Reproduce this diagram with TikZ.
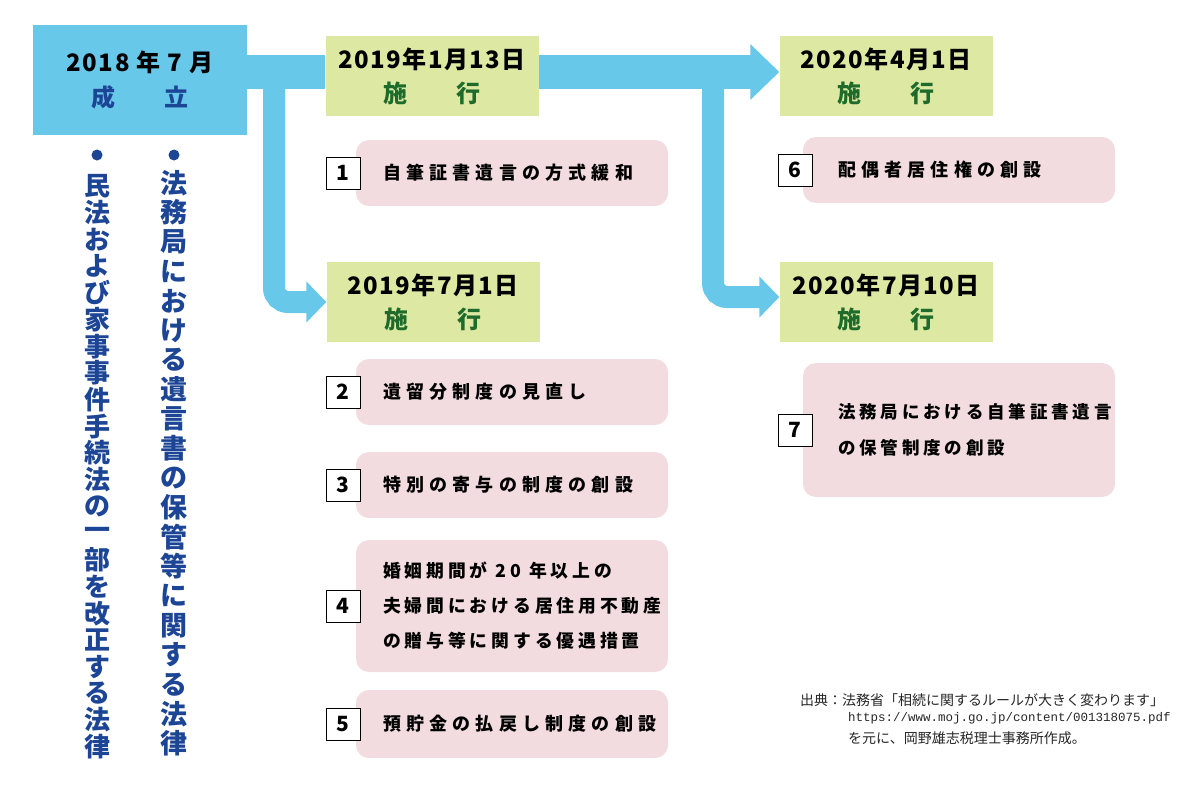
\documentclass[tikz,border=0pt]{standalone}
\usepackage{fontspec}
\setmainfont{Noto Sans CJK JP}
\newfontfamily\itemfont{Noto Sans CJK JP}[LetterSpace=29]
\newfontfamily\itemfontnarrow{Noto Sans CJK JP}[LetterSpace=22]
\newfontfamily\datefont{Noto Sans CJK JP}[LetterSpace=6]
\newfontfamily\urlfont{Liberation Mono}
\usetikzlibrary{positioning,arrows.meta,backgrounds}
\definecolor{flowblue}{HTML}{68C8EA}
\definecolor{datebg}{HTML}{DDE9A2}
\definecolor{itembg}{HTML}{F2DCDF}
\definecolor{lawblue}{HTML}{1D4596}
\definecolor{sekogreen}{HTML}{1E6B2C}

\begin{document}
\begin{tikzpicture}[x=1pt,y=-1pt,
  trunk/.style={draw=flowblue,line width=34pt},
  branch/.style={draw=flowblue,line width=22pt,rounded corners=14pt},
  actbox/.style={fill=flowblue,minimum width=214pt,minimum height=110pt,
    align=center,font=\datefont\bfseries\fontsize{24}{35}\selectfont},
  datebox/.style={fill=datebg,minimum width=213pt,minimum height=80pt,
    align=center,font=\datefont\bfseries\fontsize{24}{34}\selectfont},
  itembox/.style={fill=itembg,rounded corners=13pt,minimum width=312pt,inner sep=0pt},
  itemtext/.style={font=\itemfont\bfseries\fontsize{18}{35}\selectfont,
    align=left,inner sep=0pt},
  longtext/.style={itemtext,font=\itemfontnarrow\bfseries\fontsize{17.8}{35}\selectfont},
  numbox/.style={draw=black,line width=0.8pt,fill=white,minimum width=34pt,
    minimum height=32pt,inner sep=0pt,font=\bfseries\fontsize{21}{21}\selectfont},
  lawchar/.style={text=lawblue,inner sep=0pt,font=\bfseries\fontsize{27}{27}\selectfont},
  lawdot/.style={circle,fill=lawblue,inner sep=0pt,minimum size=11pt},
  note/.style={anchor=west,inner sep=0pt,text=black!85,font=\fontsize{14}{14}\selectfont},
]
\def\lx{512}
\def\rx{959}
\useasboundingbox (0,0) rectangle (1200,800);

% ----- act and dates -----
\node[actbox] (act) at (140,80) {2018 年 7 月\\\textcolor{lawblue}{成\hspace{50pt}立}};
\node[datebox] (d1) at (432,76) {2019年1月13日\\\textcolor{sekogreen}{施\hspace{50pt}行}};
\node[datebox] (d2) at (433,302) {2019年7月1日\\\textcolor{sekogreen}{施\hspace{50pt}行}};
\node[datebox] (d3) at (886,76) {2020年4月1日\\\textcolor{sekogreen}{施\hspace{50pt}行}};
\node[datebox] (d4) at (886,302) {2020年7月10日\\\textcolor{sekogreen}{施\hspace{50pt}行}};

% ----- blue flow arrows, behind the boxes -----
\coordinate (j1) at (274,72);
\coordinate (j2) at (713,72);
\begin{scope}[on background layer]
  \draw[branch,-{Triangle[length=20pt,width=40pt]}] (j1) |- (d2.west);
  \draw[branch,-{Triangle[length=20pt,width=40pt]}] (j2) |- ([yshift=5pt]d4.west);
  \draw[trunk] (act.east |- j1) -- (d1.west |- j1);
  \draw[trunk,-{Triangle[length=29pt,width=54pt]}] (d1.east |- j1) -- (d3.west |- j1);
\end{scope}

% ----- items -----
\node[itembox,minimum height=66pt] (p1) at (\lx,173) {};
\node[itembox,minimum height=66pt] (p2) at (\lx,392) {};
\node[itembox,minimum height=66pt] (p3) at (\lx,485) {};
\node[itembox,minimum height=132pt] (p4) at (\lx,606) {};
\node[itembox,minimum height=68pt] (p5) at (\lx,724) {};
\node[itembox,minimum height=66pt] (p6) at (\rx,170) {};
\node[itembox,minimum height=134pt] (p7) at (\rx,430) {};

\node[itemtext,right=27pt of p1.west] (t1) {自筆証書遺言の方式緩和};
\node[itemtext,right=27pt of p2.west] (t2) {遺留分制度の見直し};
\node[itemtext,right=27pt of p3.west] (t3) {特別の寄与の制度の創設};
\node[longtext,right=27pt of p4.west] (t4)
  {婚姻期間が 20 年以上の\\夫婦間における居住用不動産\\の贈与等に関する優遇措置};
\node[itemtext,right=27pt of p5.west] (t5) {預貯金の払戻し制度の創設};
\node[itemtext,right=35pt of p6.west] (t6) {配偶者居住権の創設};
\node[longtext,right=35pt of p7.west,font=\itemfontnarrow\bfseries\fontsize{17.5}{36}\selectfont] (t7)
  {法務局における自筆証書遺言\\の保管制度の創設};

\node[numbox] (n1) at (343,173) {1};
\node[numbox] (n2) at (343,392) {2};
\node[numbox] (n3) at (343,485) {3};
\node[numbox] (n4) at (343,606) {4};
\node[numbox] (n5) at (343,724) {5};
\node[numbox] (n6) at (795,170) {6};
\node[numbox] (n7) at (795,430) {7};

% ----- the two laws, set vertically -----
\node[lawdot] (rdot) at (174,155) {};
\foreach \c [count=\i] in {法,務,局,に,お,け,る,遺,言,書,の,保,管,等,に,関,す,る,法,律}
  \node[lawchar] (r\i) at (174,{183+(\i-1)*29.5}) {\c};
\node[lawdot] (ldot) at (97,155) {};
\foreach \c [count=\i] in {民,法,お,よ,び,家,事,事,件,手,続,法,の,一,部,を,改,正,す,る,法,律}
  \node[lawchar,font=\bfseries\fontsize{26}{26}\selectfont] (l\i) at (97,{186+(\i-1)*26.7}) {\c};

% ----- source -----
\node[note] (src) at (800,700) {出典：法務省「相続に関するルールが大きく変わります」};
\node[note,font=\urlfont\fontsize{12.5}{12.5}\selectfont] (url) at (848,718) {https://www.moj.go.jp/content/001318075.pdf};
\node[note] (made) at (848,738) {を元に、岡野雄志税理士事務所作成。};
\end{tikzpicture}
\end{document}
